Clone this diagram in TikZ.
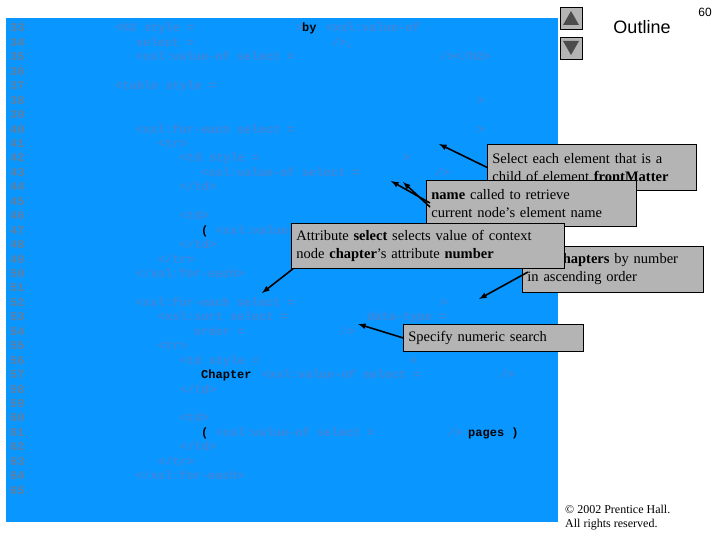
\documentclass[tikz,border=0pt]{standalone}
\usepackage{fontspec}
\setmainfont{Liberation Serif}
\newfontfamily\cfont{Liberation Mono}
\newfontfamily\sfont{Liberation Sans}
\begin{document}
\definecolor{bgblue}{HTML}{0A96FF}
\definecolor{codec}{HTML}{3E86DA}
\definecolor{numc}{HTML}{5F7FA0}
\definecolor{boxg}{HTML}{B4B4B4}
\begin{tikzpicture}[x=1pt,y=-1pt,
  code/.style={anchor=base west,inner sep=0,font=\cfont\bfseries\fontsize{12}{12}\selectfont,text=codec},
  kw/.style={code,text=black},
  num/.style={code,text=numc},
  callout/.style={draw=black,fill=boxg,line width=0.8pt,anchor=north west,align=left,inner xsep=5pt,inner ysep=3pt,font=\fontsize{14.5}{18}\selectfont,minimum height=46pt},
  arr/.style={-latex,line width=1.6pt,black}]
\useasboundingbox (0,0) rectangle (720,540);
\fill[bgblue] (6,18) rectangle (558,522);
\newcommand{\yl}[1]{32+(#1-33)*14.44}
\foreach \n in {33,...,65}{\node[num] at (10,{32+(\n-33)*14.44}) {\n};}
\node[code] at (115,{\yl{33}}) {<h2 style =};
\node[code] at (296,{\yl{33}}) {>};
\node[kw] at (302,{\yl{33}}) {by};
\node[code] at (326,{\yl{33}}) {<xsl:value-of};
\node[code] at (136,{\yl{34}}) {select =};
\node[code] at (332,{\yl{34}}) {/>,};
\node[code] at (136,{\yl{35}}) {<xsl:value-of select =};
\node[code] at (440,{\yl{35}}) {/></h2>};
\node[code] at (115,{\yl{37}}) {<table style =};
\node[code] at (477,{\yl{38}}) {>};
\node[code] at (136,{\yl{40}}) {<xsl:for-each select =};
\node[code] at (477,{\yl{40}}) {>};
\node[code] at (158,{\yl{41}}) {<tr>};
\node[code] at (180,{\yl{42}}) {<td style =};
\node[code] at (403,{\yl{42}}) {>};
\node[code] at (201,{\yl{43}}) {<xsl:value-of select =};
\node[code] at (435,{\yl{43}}) {/>};
\node[code] at (180,{\yl{44}}) {</td>};
\node[code] at (180,{\yl{46}}) {<td>};
\node[kw] at (201,{\yl{47}}) {(};
\node[code] at (216,{\yl{47}}) {<xsl:value-};
\node[code] at (180,{\yl{48}}) {</td>};
\node[code] at (158,{\yl{49}}) {</tr>};
\node[code] at (136,{\yl{50}}) {</xsl:for-each>};
\node[code] at (136,{\yl{52}}) {<xsl:for-each select =};
\node[code] at (440,{\yl{52}}) {>};
\node[code] at (158,{\yl{53}}) {<xsl:sort select =};
\node[code] at (367,{\yl{53}}) {data-type =};
\node[code] at (194,{\yl{54}}) {order =};
\node[code] at (340,{\yl{54}}) {/>};
\node[code] at (158,{\yl{55}}) {<tr>};
\node[code] at (180,{\yl{56}}) {<td style =};
\node[code] at (410,{\yl{56}}) {>};
\node[kw] at (201,{\yl{57}}) {Chapter};
\node[code] at (262,{\yl{57}}) {<xsl:value-of select =};
\node[code] at (500,{\yl{57}}) {/>};
\node[code] at (180,{\yl{58}}) {</td>};
\node[code] at (180,{\yl{60}}) {<td>};
\node[kw] at (201,{\yl{61}}) {(};
\node[code] at (216,{\yl{61}}) {<xsl:value-of select =};
\node[code] at (448,{\yl{61}}) {/>};
\node[kw] at (468,{\yl{61}}) {pages )};
\node[code] at (180,{\yl{62}}) {</td>};
\node[code] at (158,{\yl{63}}) {</tr>};
\node[code] at (136,{\yl{64}}) {</xsl:for-each>};
% buttons
\node[draw=black,fill=boxg,minimum width=22pt,minimum height=22pt,inner sep=0] (up) at (571,18) {};
\fill[black!70] (571,11) -- (563,25) -- (579,25) -- cycle;
\node[draw=black,fill=boxg,minimum width=22pt,minimum height=22pt,inner sep=0] (dn) at (571,48) {};
\fill[black!70] (571,55) -- (563,41) -- (579,41) -- cycle;
\node[anchor=base,font=\sfont\fontsize{18}{18}\selectfont] (ol) at (642,34) {Outline};
\node[anchor=base,font=\sfont\fontsize{12}{12}\selectfont] (pg) at (705,17) {60};
\node[anchor=north west,align=left,inner sep=0,font=\fontsize{12}{14}\selectfont] (cp) at (565,505) {\textcopyright{} 2002 Prentice Hall.\\All rights reserved.};
% callouts
\node[callout,text width=199pt] (a) at (487,144) {Select each element that is a\\child of element \textbf{frontMatter}};
\coordinate (ta) at (439,144);
\draw[arr] (a.west) -- (ta);
\node[callout,text width=200pt] (b) at (426,180) {\textbf{name} called to retrieve\\current node's element name};
\coordinate (tb1) at (391,181); \coordinate (tb2) at (403,182);
\draw[arr] (430,203) -- (tb1);
\draw[arr] (430,207) -- (tb2);
\node[callout,text width=171pt] (c) at (522,246) {Sort \textbf{chapters} by number\\in ascending order};
\coordinate (tc) at (479,299);
\draw[arr] (528,272) -- (tc);
\node[callout,text width=263pt,minimum height=45pt] (d) at (291,223) {Attribute \textbf{select} selects value of context\\node \textbf{chapter}'s attribute \textbf{number}};
\coordinate (td) at (262,293);
\draw[arr] (d.south west) ++(2,0) -- (td);
\node[callout,text width=170pt,minimum height=27pt] (e) at (403,324) {Specify numeric search};
\coordinate (te) at (358,324);
\draw[arr] (e.west) -- (te);
\end{tikzpicture}
\end{document}
